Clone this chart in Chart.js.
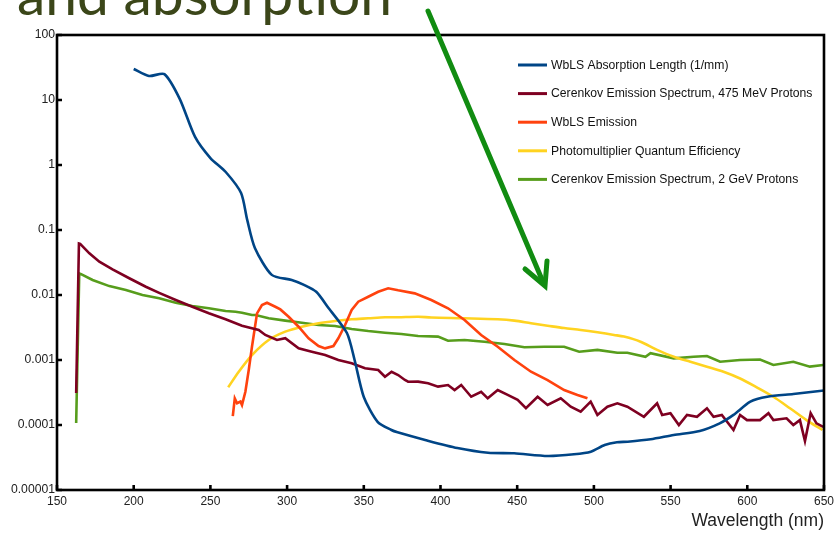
<!DOCTYPE html>
<html>
<head>
<meta charset="utf-8">
<script src="https://cdn.jsdelivr.net/npm/chart.js@4/dist/chart.umd.min.js"></script>
<style>
  html, body { margin: 0; padding: 0; background: #ffffff; }
  #wrap { position: relative; width: 838px; height: 533px; overflow: hidden; }
  #c { position: absolute; left: 0; top: 0; }
  #ov { position: absolute; left: 0; top: 0; pointer-events: none; }
</style>
</head>
<body>
<div id="wrap">
  <canvas id="c" width="838" height="533"></canvas>
  <svg id="ov" width="838" height="533" xmlns="http://www.w3.org/2000/svg">
    <text x="17" y="15" font-family="Lato, 'Open Sans', sans-serif" font-size="56" fill="#3b4619" textLength="375" lengthAdjust="spacingAndGlyphs">and absorption</text>
    <line x1="428" y1="11" x2="543" y2="282" stroke="#118c11" stroke-width="5" stroke-linecap="round"/>
    <polyline points="525,269 545,286 547,261" fill="none" stroke="#118c11" stroke-width="5" stroke-linecap="round" stroke-linejoin="miter"/>
  </svg>
</div>
<script>
// ---- data ----
const seriesLabels = [
  'WbLS Absorption Length (1/mm)',
  'Cerenkov Emission Spectrum, 475 MeV Protons',
  'WbLS Emission',
  'Photomultiplier Quantum Efficiency',
  'Cerenkov Emission Spectrum, 2 GeV Protons'
];
const seriesColors = ['#004586', '#7e0021', '#ff420e', '#ffd320', '#579d1c'];

const absorptionWl = [200,210,220,230,240,250,260,270,274,279,290,303,311,319,327,339,344,350,359,368,372,390,411,431,448,470,487,498,507,515,522,537,552,569,582,591,602,613,630,650];
const absorptionVal = [30,23.4,25,10.4,2.7,1.28,0.78,0.37,0.143,0.053,0.0204,0.017,0.0143,0.0112,0.0063,0.0026,0.001,0.00027,0.000112,0.0000838,0.0000773,0.0000589,0.0000443,0.0000375,0.0000367,0.0000334,0.0000355,0.0000389,0.0000492,0.0000542,0.0000553,0.0000603,0.0000702,0.0000809,0.000106,0.000143,0.000229,0.000272,0.0003,0.00034];

const cer475Wl = [162.5,164.3,165.1,171.1,177.6,186.2,197.1,207.9,216.6,227.4,238.2,249,259.9,270.6,281.5,285.8,293.4,298.8,307.5,316.1,324.8,333.4,342.1,350.8,359.4,363.8,368.1,372.4,376.8,378.9,385.4,391.9,398.4,404.9,409.2,413.5,420,426.5,430.8,437.3,443.8,450.3,455.7,463.3,469.8,478.4,484.9,491.4,497.9,502.3,508.8,515.3,521.8,532.6,541.2,544.5,549.9,555.4,560.7,567.2,573.7,578,583.4,591,595.3,599.8,608.3,613.8,617,625.6,630,634.3,637.6,641.3,645.1,649.5];
const cer475Val = [0.00031,0.062,0.061,0.0438,0.0325,0.0248,0.0181,0.0134,0.0108,0.00838,0.0066,0.00524,0.00423,0.00337,0.0029,0.00243,0.00203,0.00216,0.00151,0.00134,0.00119,0.001,0.00089,0.000745,0.000702,0.000553,0.00066,0.000587,0.000492,0.000463,0.000465,0.000438,0.000389,0.000412,0.000345,0.000412,0.000272,0.000325,0.000257,0.000345,0.00029,0.000243,0.000181,0.000272,0.000203,0.000257,0.000191,0.00016,0.000229,0.000143,0.000191,0.000216,0.000191,0.000134,0.000216,0.000143,0.000152,0.0001,0.000143,0.000134,0.000181,0.000134,0.000143,0.0000838,0.000143,0.000119,0.000119,0.000152,0.000119,0.000127,0.0001,0.000119,0.0000567,0.000152,0.000106,0.0000933];

const emissionWl = [264.6,265.9,267.4,269.6,270.6,272.8,275,277.1,280.4,283.6,286.9,292.3,295.6,301,307.5,314,320.5,324.8,330.2,333.4,337.8,342.1,346.4,352.9,359.4,365.9,372.4,383.2,394,404.9,415.7,426.5,437.3,448.2,459,469.8,480.6,489.3,495.8];
const emissionVal = [0.000137,0.000257,0.000216,0.000229,0.000203,0.000325,0.0007,0.0016,0.00522,0.00702,0.0076,0.0066,0.006,0.00463,0.00325,0.00216,0.00164,0.00151,0.00164,0.00216,0.00345,0.0059,0.00789,0.0094,0.0112,0.0127,0.0118,0.0106,0.00838,0.00624,0.00412,0.00243,0.0016,0.001,0.00066,0.000492,0.000345,0.00029,0.000257];

const qeWl = [261.6,268.5,277.1,288,298.8,309.6,320.5,331.3,342.1,352.9,363.8,372.4,385.4,394,415.7,437.3,448.2,459,469.8,480.6,491.4,502.3,513.1,519.6,530.4,541.2,552.1,562.9,573.7,584.5,595.3,606.2,617,627.8,638.6,649];
const qeVal = [0.00038,0.00066,0.00119,0.00203,0.00273,0.00325,0.00367,0.00398,0.00423,0.00438,0.00454,0.00455,0.00463,0.0045,0.00438,0.00423,0.00403,0.00367,0.00337,0.0031,0.0029,0.00267,0.00243,0.00229,0.00191,0.00143,0.00112,0.00094,0.00079,0.00066,0.00052,0.00038,0.000272,0.000181,0.000119,0.0000838];

const cer2Wl = [162.5,164.5,165.7,173.2,184.1,194.9,205.7,216.6,227.4,238.2,249,259.9,266.4,270.6,277.1,279.4,288,298.8,309.6,320.5,331.3,342.1,352.9,363.8,374.5,385.4,398.4,404.9,415.7,428.7,441.7,454.7,467.7,480.6,490.4,502.3,515.3,521.8,533.6,536.9,552.1,565,573.7,582.3,595.3,608.3,617,630,640.8,649.5];
const cer2Val = [0.000107,0.0215,0.0209,0.017,0.0137,0.0119,0.01,0.0089,0.0076,0.00677,0.00624,0.00567,0.00553,0.00534,0.00492,0.00492,0.00438,0.00403,0.00375,0.00345,0.00333,0.003,0.00279,0.00263,0.00251,0.00234,0.00229,0.00198,0.00203,0.00191,0.00176,0.00157,0.0016,0.0016,0.00134,0.00143,0.00129,0.00129,0.00112,0.00127,0.00106,0.00112,0.00115,0.00094,0.001,0.00102,0.00084,0.00094,0.00079,0.00084];

const xTickVals = [150,200,250,300,350,400,450,500,550,600,650];
const xTickLabels = ['150','200','250','300','350','400','450','500','550','600','650'];
const yTickVals = [100,10,1,0.1,0.01,0.001,0.0001,0.00001];
const yTickLabels = ['100','10','1','0.1','0.01','0.001','0.0001','0.00001'];
const xTitle = 'Wavelength (nm)';

// ---- build ----
function pts(xs, ys) {
  const n = Math.min(xs.length, ys.length);
  const out = [];
  for (let i = 0; i < n; i++) out.push({ x: xs[i], y: ys[i] });
  return out;
}
const seriesData = [
  pts(absorptionWl, absorptionVal),
  pts(cer475Wl, cer475Val),
  pts(emissionWl, emissionVal),
  pts(qeWl, qeVal),
  pts(cer2Wl, cer2Val)
];
const smooth = [0.25, 0, 0, 0.3, 0];

const datasets = seriesData.map((d, i) => ({
  label: seriesLabels[i],
  data: d,
  borderColor: seriesColors[i],
  backgroundColor: seriesColors[i],
  borderWidth: 2.6,
  pointRadius: 0,
  tension: smooth[i],
  fill: false
}));

const FONT = "'Liberation Sans', Arial, sans-serif";

const framePlugin = {
  id: 'frame',
  afterDatasetsDraw(chart) {
    const { ctx, chartArea: a, scales } = chart;
    ctx.save();
    ctx.strokeStyle = '#000';
    ctx.lineWidth = 2.6;
    ctx.strokeRect(a.left, a.top, a.right - a.left, a.bottom - a.top);
    ctx.beginPath();
    yTickVals.forEach(v => {
      const y = scales.y.getPixelForValue(v);
      ctx.moveTo(a.left, y); ctx.lineTo(a.left + 5, y);
    });
    xTickVals.forEach(v => {
      const x = scales.x.getPixelForValue(v);
      ctx.moveTo(x, a.bottom); ctx.lineTo(x, a.bottom - 5);
    });
    ctx.stroke();
    ctx.restore();
  }
};

const legendPlugin = {
  id: 'customLegend',
  afterDraw(chart) {
    const { ctx } = chart;
    const x0 = 518, lineLen = 29, textX = 551, y0 = 65, step = 28.6;
    ctx.save();
    ctx.font = '12.2px ' + FONT;
    ctx.textBaseline = 'middle';
    ctx.textAlign = 'left';
    chart.data.datasets.forEach((ds, i) => {
      const y = y0 + i * step;
      ctx.strokeStyle = ds.borderColor;
      ctx.lineWidth = 3;
      ctx.beginPath();
      ctx.moveTo(x0, y); ctx.lineTo(x0 + lineLen, y);
      ctx.stroke();
      ctx.fillStyle = '#111';
      ctx.fillText(ds.label, textX, y + 0.5);
    });
    ctx.restore();
  }
};

new Chart(document.getElementById('c'), {
  type: 'line',
  data: { datasets },
  plugins: [framePlugin, legendPlugin],
  options: {
    responsive: false,
    animation: false,
    layout: { padding: { top: 35, right: 11, left: 0, bottom: 0 } },
    plugins: { legend: { display: false }, tooltip: { enabled: false } },
    scales: {
      x: {
        type: 'linear',
        min: 150, max: 650,
        afterBuildTicks: s => { s.ticks = xTickVals.map(v => ({ value: v })); },
        afterFit: s => { s.height = 43; },
        grid: { display: false, drawTicks: false },
        border: { display: false },
        ticks: {
          autoSkip: false, maxRotation: 0, padding: 4,
          color: '#222', font: { family: FONT, size: 12 },
          callback: v => xTickLabels[xTickVals.indexOf(v)]
        },
        title: {
          display: true, text: xTitle, align: 'end',
          color: '#222', font: { family: FONT, size: 17.5 },
          padding: { top: 0, bottom: 1 }
        }
      },
      y: {
        type: 'logarithmic',
        min: 0.00001, max: 100,
        afterBuildTicks: s => { s.ticks = yTickVals.map(v => ({ value: v })); },
        afterFit: s => { s.width = 57; },
        grid: { display: false, drawTicks: false },
        border: { display: false },
        ticks: {
          autoSkip: false, padding: 2,
          color: '#222', font: { family: FONT, size: 12.2 },
          callback: v => {
            const i = yTickVals.findIndex(t => Math.abs(t - v) / t < 1e-6);
            return i >= 0 ? yTickLabels[i] : '';
          }
        }
      }
    }
  }
});
</script>
</body>
</html>
